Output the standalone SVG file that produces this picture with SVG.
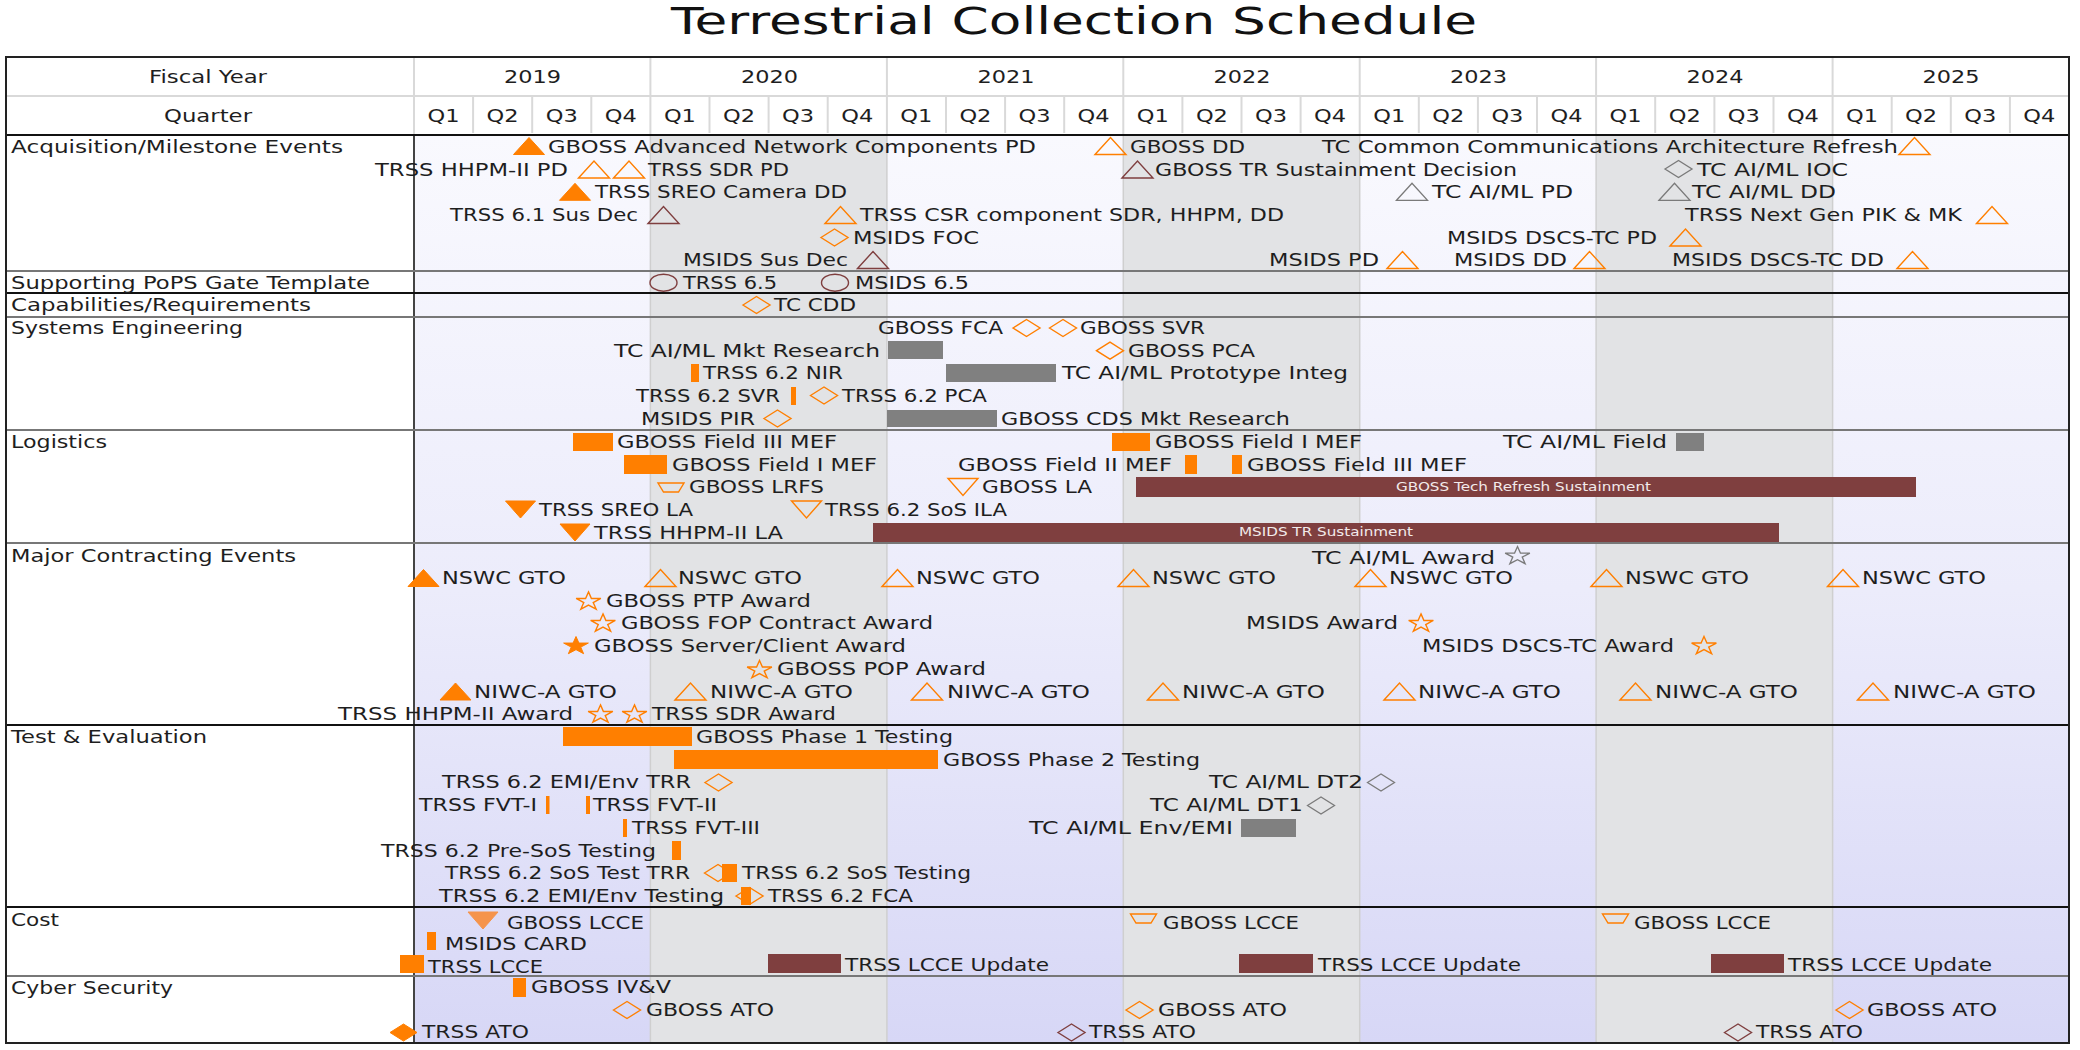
<svg xmlns="http://www.w3.org/2000/svg" xmlns:xlink="http://www.w3.org/1999/xlink" width="2080" height="1050" viewBox="0 0 2080 1050">
<style>
text{font-family:"DejaVu Sans","Liberation Sans",sans-serif;font-size:18px;fill:#1e1e1e}
.ttl{font-size:37px;fill:#111}
.sm{font-size:12px;fill:#f2eaea}
.fo{fill:#ff7f00;stroke:#ff7f00;stroke-width:1}
.fl{fill:#f5944c;stroke:#f5944c;stroke-width:1}
.oo{fill:none;stroke:#ff7f00;stroke-width:1.4}
.om{fill:none;stroke:#7f3f3f;stroke-width:1.4}
.og{fill:none;stroke:#7a7a7a;stroke-width:1.3}
.bo{fill:#ff7f00}
.bm{fill:#7f3f3f}
.bg{fill:#808080}
.hl{stroke:#d9d9d9;stroke-width:2}
.yl{stroke:#cfcfcf;stroke-width:1.5}
.rk{stroke:#111;stroke-width:2}
.rg{stroke:#777;stroke-width:2}
</style>
<defs>
<linearGradient id="bgg" x1="0" y1="0" x2="0" y2="1">
<stop offset="0" stop-color="#f9f9fe"/>
<stop offset="0.5" stop-color="#ececfb"/>
<stop offset="1" stop-color="#d7d7f6"/>
</linearGradient>
<path id="tri" d="M-15.5,8.5 L0,-8.5 L15.5,8.5 Z"/>
<path id="itri" d="M-15,-8.5 L15,-8.5 L0,8.5 Z"/>
<path id="dia" d="M-13.5,0 L0,-8.5 L13.5,0 L0,8.5 Z"/>
<path id="star" d="M0,-9.5 L2.92,-2.94 L12.36,-2.94 L4.72,1.12 L7.64,7.69 L0,3.63 L-7.64,7.69 L-4.72,1.12 L-12.36,-2.94 L-2.92,-2.94 Z"/>
<ellipse id="ell" cx="0" cy="0" rx="13.5" ry="8.5"/>
<path id="trap" d="M-13,-4.5 L13,-4.5 L7.5,4.5 L-7.5,4.5 Z"/>
</defs>

<rect x="0" y="0" width="2080" height="1050" fill="#ffffff"/>
<text class="ttl" x="671" y="34" textLength="806" lengthAdjust="spacingAndGlyphs">Terrestrial Collection Schedule</text>

<g id="grid">
<rect x="414" y="135" width="1655" height="908" fill="url(#bgg)"/>
<rect x="650.4" y="135" width="236.5" height="908" fill="#e2e3e5"/>
<rect x="1123.3" y="135" width="236.4" height="908" fill="#e2e3e5"/>
<rect x="1596.1" y="135" width="236.5" height="908" fill="#e2e3e5"/>
<g class="yl">
<line x1="650.4" y1="135" x2="650.4" y2="1043"/><line x1="886.9" y1="135" x2="886.9" y2="1043"/>
<line x1="1123.3" y1="135" x2="1123.3" y2="1043"/><line x1="1359.7" y1="135" x2="1359.7" y2="1043"/>
<line x1="1596.1" y1="135" x2="1596.1" y2="1043"/><line x1="1832.6" y1="135" x2="1832.6" y2="1043"/>
</g>
<g class="hl">
<line x1="6" y1="96" x2="2069" y2="96"/>
<line x1="414" y1="57" x2="414" y2="135"/>
<line x1="650.4" y1="57" x2="650.4" y2="135"/><line x1="886.9" y1="57" x2="886.9" y2="135"/>
<line x1="1123.3" y1="57" x2="1123.3" y2="135"/><line x1="1359.7" y1="57" x2="1359.7" y2="135"/>
<line x1="1596.1" y1="57" x2="1596.1" y2="135"/><line x1="1832.6" y1="57" x2="1832.6" y2="135"/>
<line x1="473.1" y1="97" x2="473.1" y2="133"/><line x1="532.2" y1="97" x2="532.2" y2="133"/><line x1="591.3" y1="97" x2="591.3" y2="133"/>
<line x1="709.5" y1="97" x2="709.5" y2="133"/><line x1="768.6" y1="97" x2="768.6" y2="133"/><line x1="827.7" y1="97" x2="827.7" y2="133"/>
<line x1="946" y1="97" x2="946" y2="133"/><line x1="1005.1" y1="97" x2="1005.1" y2="133"/><line x1="1064.2" y1="97" x2="1064.2" y2="133"/>
<line x1="1182.4" y1="97" x2="1182.4" y2="133"/><line x1="1241.5" y1="97" x2="1241.5" y2="133"/><line x1="1300.6" y1="97" x2="1300.6" y2="133"/>
<line x1="1418.8" y1="97" x2="1418.8" y2="133"/><line x1="1477.9" y1="97" x2="1477.9" y2="133"/><line x1="1537" y1="97" x2="1537" y2="133"/>
<line x1="1655.2" y1="97" x2="1655.2" y2="133"/><line x1="1714.4" y1="97" x2="1714.4" y2="133"/><line x1="1773.5" y1="97" x2="1773.5" y2="133"/>
<line x1="1891.7" y1="97" x2="1891.7" y2="133"/><line x1="1950.8" y1="97" x2="1950.8" y2="133"/><line x1="2009.9" y1="97" x2="2009.9" y2="133"/>
</g>
<line x1="414" y1="135" x2="414" y2="1043" stroke="#444" stroke-width="2"/>
<line class="rk" x1="6" y1="135" x2="2069" y2="135"/>
<line class="rg" x1="6" y1="271" x2="2069" y2="271"/>
<line class="rk" x1="6" y1="293" x2="2069" y2="293"/>
<line class="rg" x1="6" y1="317" x2="2069" y2="317"/>
<line class="rg" x1="6" y1="430" x2="2069" y2="430"/>
<line class="rg" x1="6" y1="543" x2="2069" y2="543"/>
<line class="rk" x1="6" y1="725" x2="2069" y2="725"/>
<line class="rk" x1="6" y1="907" x2="2069" y2="907"/>
<line class="rg" x1="6" y1="976" x2="2069" y2="976"/>
<rect x="6" y="57" width="2063" height="986" fill="none" stroke="#222" stroke-width="2"/>
</g>

<g id="header">
<text x="149" y="83" textLength="118" lengthAdjust="spacingAndGlyphs">Fiscal Year</text>
<text x="164" y="122" textLength="88" lengthAdjust="spacingAndGlyphs">Quarter</text>
<text x="504" y="83" textLength="57" lengthAdjust="spacingAndGlyphs">2019</text>
<text x="741" y="83" textLength="57" lengthAdjust="spacingAndGlyphs">2020</text>
<text x="977.5" y="83" textLength="57" lengthAdjust="spacingAndGlyphs">2021</text>
<text x="1213.5" y="83" textLength="57" lengthAdjust="spacingAndGlyphs">2022</text>
<text x="1450" y="83" textLength="57" lengthAdjust="spacingAndGlyphs">2023</text>
<text x="1686.5" y="83" textLength="57" lengthAdjust="spacingAndGlyphs">2024</text>
<text x="1922.5" y="83" textLength="57" lengthAdjust="spacingAndGlyphs">2025</text>
<text x="427.6" y="122" textLength="32" lengthAdjust="spacingAndGlyphs">Q1</text>
<text x="486.6" y="122" textLength="32" lengthAdjust="spacingAndGlyphs">Q2</text>
<text x="545.7" y="122" textLength="32" lengthAdjust="spacingAndGlyphs">Q3</text>
<text x="604.8" y="122" textLength="32" lengthAdjust="spacingAndGlyphs">Q4</text>
<text x="663.9" y="122" textLength="32" lengthAdjust="spacingAndGlyphs">Q1</text>
<text x="723" y="122" textLength="32" lengthAdjust="spacingAndGlyphs">Q2</text>
<text x="782.1" y="122" textLength="32" lengthAdjust="spacingAndGlyphs">Q3</text>
<text x="841.2" y="122" textLength="32" lengthAdjust="spacingAndGlyphs">Q4</text>
<text x="900.3" y="122" textLength="32" lengthAdjust="spacingAndGlyphs">Q1</text>
<text x="959.4" y="122" textLength="32" lengthAdjust="spacingAndGlyphs">Q2</text>
<text x="1018.5" y="122" textLength="32" lengthAdjust="spacingAndGlyphs">Q3</text>
<text x="1077.6" y="122" textLength="32" lengthAdjust="spacingAndGlyphs">Q4</text>
<text x="1136.8" y="122" textLength="32" lengthAdjust="spacingAndGlyphs">Q1</text>
<text x="1195.9" y="122" textLength="32" lengthAdjust="spacingAndGlyphs">Q2</text>
<text x="1255" y="122" textLength="32" lengthAdjust="spacingAndGlyphs">Q3</text>
<text x="1314.1" y="122" textLength="32" lengthAdjust="spacingAndGlyphs">Q4</text>
<text x="1373.2" y="122" textLength="32" lengthAdjust="spacingAndGlyphs">Q1</text>
<text x="1432.3" y="122" textLength="32" lengthAdjust="spacingAndGlyphs">Q2</text>
<text x="1491.4" y="122" textLength="32" lengthAdjust="spacingAndGlyphs">Q3</text>
<text x="1550.5" y="122" textLength="32" lengthAdjust="spacingAndGlyphs">Q4</text>
<text x="1609.6" y="122" textLength="32" lengthAdjust="spacingAndGlyphs">Q1</text>
<text x="1668.7" y="122" textLength="32" lengthAdjust="spacingAndGlyphs">Q2</text>
<text x="1727.8" y="122" textLength="32" lengthAdjust="spacingAndGlyphs">Q3</text>
<text x="1786.9" y="122" textLength="32" lengthAdjust="spacingAndGlyphs">Q4</text>
<text x="1846" y="122" textLength="32" lengthAdjust="spacingAndGlyphs">Q1</text>
<text x="1905.1" y="122" textLength="32" lengthAdjust="spacingAndGlyphs">Q2</text>
<text x="1964.2" y="122" textLength="32" lengthAdjust="spacingAndGlyphs">Q3</text>
<text x="2023.3" y="122" textLength="32" lengthAdjust="spacingAndGlyphs">Q4</text>
</g>

<g id="row-labels">
<text x="11" y="153" textLength="332" lengthAdjust="spacingAndGlyphs">Acquisition/Milestone Events</text>
<text x="11" y="289" textLength="359" lengthAdjust="spacingAndGlyphs">Supporting PoPS Gate Template</text>
<text x="11" y="311" textLength="300" lengthAdjust="spacingAndGlyphs">Capabilities/Requirements</text>
<text x="11" y="334" textLength="232" lengthAdjust="spacingAndGlyphs">Systems Engineering</text>
<text x="11" y="448" textLength="96" lengthAdjust="spacingAndGlyphs">Logistics</text>
<text x="11" y="562" textLength="285" lengthAdjust="spacingAndGlyphs">Major Contracting Events</text>
<text x="11" y="743" textLength="196" lengthAdjust="spacingAndGlyphs">Test &amp; Evaluation</text>
<text x="11" y="926" textLength="48" lengthAdjust="spacingAndGlyphs">Cost</text>
<text x="11" y="994" textLength="162" lengthAdjust="spacingAndGlyphs">Cyber Security</text>
</g>

<g id="connectors"></g>

<g id="acquisition">
<g id="gboss-anc-pd"><use href="#tri" class="fo" x="529" y="146"/><text x="548" y="153" textLength="488" lengthAdjust="spacingAndGlyphs">GBOSS Advanced Network Components PD</text></g>
<g id="gboss-dd"><use href="#tri" class="oo" x="1110.5" y="146"/><text x="1130" y="153" textLength="115" lengthAdjust="spacingAndGlyphs">GBOSS DD</text></g>
<g id="tc-ccar"><text x="1322" y="153" textLength="576" lengthAdjust="spacingAndGlyphs">TC Common Communications Architecture Refresh</text><use href="#tri" class="oo" x="1914.5" y="146"/></g>
<g id="trss-hhpm-pd"><text x="375" y="175.5" textLength="193" lengthAdjust="spacingAndGlyphs">TRSS HHPM-II PD</text><use href="#tri" class="oo" x="594" y="169.5"/></g>
<g id="trss-sdr-pd"><use href="#tri" class="oo" x="629" y="169.5"/><text x="648" y="175.5" textLength="141" lengthAdjust="spacingAndGlyphs">TRSS SDR PD</text></g>
<g id="gboss-tr-sd"><use href="#tri" class="om" x="1137.5" y="169.5"/><text x="1155" y="175.5" textLength="362" lengthAdjust="spacingAndGlyphs">GBOSS TR Sustainment Decision</text></g>
<g id="tc-aiml-ioc"><use href="#dia" class="og" x="1678.5" y="169"/><text x="1697" y="175.5" textLength="151" lengthAdjust="spacingAndGlyphs">TC AI/ML IOC</text></g>
<g id="trss-sreo-dd"><use href="#tri" class="fo" x="575" y="191.8"/><text x="595" y="198" textLength="252" lengthAdjust="spacingAndGlyphs">TRSS SREO Camera DD</text></g>
<g id="tc-aiml-pd"><use href="#tri" class="og" x="1412" y="191.8"/><text x="1432" y="198" textLength="141" lengthAdjust="spacingAndGlyphs">TC AI/ML PD</text></g>
<g id="tc-aiml-dd"><use href="#tri" class="og" x="1674.5" y="191.8"/><text x="1692" y="198" textLength="144" lengthAdjust="spacingAndGlyphs">TC AI/ML DD</text></g>
<g id="trss-61-sd"><text x="450" y="221" textLength="188" lengthAdjust="spacingAndGlyphs">TRSS 6.1 Sus Dec</text><use href="#tri" class="om" x="663.5" y="215"/></g>
<g id="trss-csr"><use href="#tri" class="oo" x="840.5" y="215"/><text x="860" y="221" textLength="424" lengthAdjust="spacingAndGlyphs">TRSS CSR component SDR, HHPM, DD</text></g>
<g id="trss-nextgen"><text x="1685" y="221" textLength="277" lengthAdjust="spacingAndGlyphs">TRSS Next Gen PIK &amp; MK</text><use href="#tri" class="oo" x="1992" y="215"/></g>
<g id="msids-foc"><use href="#dia" class="oo" x="834.5" y="237.5"/><text x="853" y="243.5" textLength="126" lengthAdjust="spacingAndGlyphs">MSIDS FOC</text></g>
<g id="msids-dscs-pd"><text x="1447" y="243.5" textLength="210" lengthAdjust="spacingAndGlyphs">MSIDS DSCS-TC PD</text><use href="#tri" class="oo" x="1685.5" y="237.5"/></g>
<g id="msids-sd"><text x="683" y="266" textLength="165" lengthAdjust="spacingAndGlyphs">MSIDS Sus Dec</text><use href="#tri" class="om" x="873" y="260"/></g>
<g id="msids-pd"><text x="1269" y="266" textLength="110" lengthAdjust="spacingAndGlyphs">MSIDS PD</text><use href="#tri" class="oo" x="1402.5" y="260"/></g>
<g id="msids-dd"><text x="1454" y="266" textLength="113" lengthAdjust="spacingAndGlyphs">MSIDS DD</text><use href="#tri" class="oo" x="1589.5" y="260"/></g>
<g id="msids-dscs-dd"><text x="1672" y="266" textLength="212" lengthAdjust="spacingAndGlyphs">MSIDS DSCS-TC DD</text><use href="#tri" class="oo" x="1912.5" y="260"/></g>
</g>

<g id="pops">
<g id="trss-65"><use href="#ell" class="om" x="663.5" y="282.7"/><text x="683" y="289" textLength="94" lengthAdjust="spacingAndGlyphs">TRSS 6.5</text></g>
<g id="msids-65"><use href="#ell" class="om" x="835" y="282.7"/><text x="855" y="289" textLength="114" lengthAdjust="spacingAndGlyphs">MSIDS 6.5</text></g>
</g>

<g id="capabilities">
<g id="tc-cdd"><use href="#dia" class="oo" x="756.5" y="305"/><text x="774" y="311" textLength="82" lengthAdjust="spacingAndGlyphs">TC CDD</text></g>
</g>

<g id="systems-engineering">
<g id="gboss-fca"><text x="878" y="334" textLength="125" lengthAdjust="spacingAndGlyphs">GBOSS FCA</text><use href="#dia" class="oo" x="1026.5" y="328"/></g>
<g id="gboss-svr"><use href="#dia" class="oo" x="1063" y="328"/><text x="1080" y="334" textLength="125" lengthAdjust="spacingAndGlyphs">GBOSS SVR</text></g>
<g id="tc-aiml-mkt"><text x="614" y="357" textLength="266" lengthAdjust="spacingAndGlyphs">TC AI/ML Mkt Research</text><rect class="bg" x="888" y="341" width="55" height="18"/></g>
<g id="gboss-pca"><use href="#dia" class="oo" x="1110" y="350.7"/><text x="1128" y="357" textLength="127" lengthAdjust="spacingAndGlyphs">GBOSS PCA</text></g>
<g id="trss-62-nir"><rect class="bo" x="691" y="364" width="8" height="18"/><text x="703" y="379" textLength="140" lengthAdjust="spacingAndGlyphs">TRSS 6.2 NIR</text></g>
<g id="tc-aiml-proto"><rect class="bg" x="946" y="364" width="110" height="18"/><text x="1062" y="379" textLength="286" lengthAdjust="spacingAndGlyphs">TC AI/ML Prototype Integ</text></g>
<g id="trss-62-svr"><text x="636" y="402" textLength="144" lengthAdjust="spacingAndGlyphs">TRSS 6.2 SVR</text><rect class="bo" x="791" y="387" width="5" height="18"/></g>
<g id="trss-62-pca"><use href="#dia" class="oo" x="824" y="395.5"/><text x="842" y="402" textLength="145" lengthAdjust="spacingAndGlyphs">TRSS 6.2 PCA</text></g>
<g id="msids-pir"><text x="641" y="425" textLength="114" lengthAdjust="spacingAndGlyphs">MSIDS PIR</text><use href="#dia" class="oo" x="777.5" y="418.5"/></g>
<g id="gboss-cds-mkt"><rect class="bg" x="887" y="410" width="110" height="17"/><text x="1001" y="425" textLength="289" lengthAdjust="spacingAndGlyphs">GBOSS CDS Mkt Research</text></g>
</g>

<g id="logistics">
<g id="gboss-f3-mef-a"><rect class="bo" x="573" y="433" width="40" height="18"/><text x="617" y="448" textLength="220" lengthAdjust="spacingAndGlyphs">GBOSS Field III MEF</text></g>
<g id="gboss-f1-mef-b"><rect class="bo" x="1112" y="433" width="38" height="18"/><text x="1155" y="448" textLength="207" lengthAdjust="spacingAndGlyphs">GBOSS Field I MEF</text></g>
<g id="tc-aiml-field"><text x="1503" y="448" textLength="164" lengthAdjust="spacingAndGlyphs">TC AI/ML Field</text><rect class="bg" x="1676" y="433" width="28" height="18"/></g>
<g id="gboss-f1-mef-a"><rect class="bo" x="624" y="455" width="43" height="19"/><text x="672" y="470.5" textLength="205" lengthAdjust="spacingAndGlyphs">GBOSS Field I MEF</text></g>
<g id="gboss-f2-mef"><text x="958" y="470.5" textLength="214" lengthAdjust="spacingAndGlyphs">GBOSS Field II MEF</text><rect class="bo" x="1185" y="455" width="12" height="19"/></g>
<g id="gboss-f3-mef-b"><rect class="bo" x="1232" y="455" width="10" height="19"/><text x="1247" y="470.5" textLength="220" lengthAdjust="spacingAndGlyphs">GBOSS Field III MEF</text></g>
<g id="gboss-lrfs"><use href="#trap" class="oo" x="671" y="487.5"/><text x="689" y="493" textLength="135" lengthAdjust="spacingAndGlyphs">GBOSS LRFS</text></g>
<g id="gboss-la"><use href="#itri" class="oo" x="963" y="487"/><text x="982" y="493" textLength="110" lengthAdjust="spacingAndGlyphs">GBOSS LA</text></g>
<g id="gboss-tr-sust"><rect class="bm" x="1136" y="477" width="780" height="20"/><text class="sm" x="1396" y="490.5" textLength="255" lengthAdjust="spacingAndGlyphs">GBOSS Tech Refresh Sustainment</text></g>
<g id="trss-sreo-la"><use href="#itri" class="fo" x="520.5" y="509.5"/><text x="539" y="516" textLength="154" lengthAdjust="spacingAndGlyphs">TRSS SREO LA</text></g>
<g id="trss-62-sos-ila"><use href="#itri" class="oo" x="806.5" y="509.5"/><text x="825" y="516" textLength="182" lengthAdjust="spacingAndGlyphs">TRSS 6.2 SoS ILA</text></g>
<g id="trss-hhpm-la"><use href="#itri" class="fo" x="575" y="532.5"/><text x="594" y="539" textLength="189" lengthAdjust="spacingAndGlyphs">TRSS HHPM-II LA</text></g>
<g id="msids-tr-sust"><rect class="bm" x="873" y="523" width="906" height="19"/><text class="sm" x="1239" y="536" textLength="174" lengthAdjust="spacingAndGlyphs">MSIDS TR Sustainment</text></g>
</g>

<g id="contracting">
<g id="tc-aiml-award"><text x="1312" y="564" textLength="183" lengthAdjust="spacingAndGlyphs">TC AI/ML Award</text><use href="#star" class="og" x="1517.5" y="556"/></g>
<g id="nswc-2019"><use href="#tri" class="fo" x="423.5" y="578"/><text x="442" y="584" textLength="124" lengthAdjust="spacingAndGlyphs">NSWC GTO</text></g>
<g id="nswc-2020"><use href="#tri" class="oo" x="660.5" y="578"/><text x="678" y="584" textLength="124" lengthAdjust="spacingAndGlyphs">NSWC GTO</text></g>
<g id="nswc-2021"><use href="#tri" class="oo" x="897.5" y="578"/><text x="916" y="584" textLength="124" lengthAdjust="spacingAndGlyphs">NSWC GTO</text></g>
<g id="nswc-2022"><use href="#tri" class="oo" x="1133.5" y="578"/><text x="1152" y="584" textLength="124" lengthAdjust="spacingAndGlyphs">NSWC GTO</text></g>
<g id="nswc-2023"><use href="#tri" class="oo" x="1370.5" y="578"/><text x="1389" y="584" textLength="124" lengthAdjust="spacingAndGlyphs">NSWC GTO</text></g>
<g id="nswc-2024"><use href="#tri" class="oo" x="1606.5" y="578"/><text x="1625" y="584" textLength="124" lengthAdjust="spacingAndGlyphs">NSWC GTO</text></g>
<g id="nswc-2025"><use href="#tri" class="oo" x="1843" y="578"/><text x="1862" y="584" textLength="124" lengthAdjust="spacingAndGlyphs">NSWC GTO</text></g>
<g id="gboss-ptp"><use href="#star" class="oo" x="588.5" y="601.4"/><text x="606" y="607" textLength="205" lengthAdjust="spacingAndGlyphs">GBOSS PTP Award</text></g>
<g id="gboss-fop"><use href="#star" class="oo" x="603" y="623.4"/><text x="621" y="629" textLength="312" lengthAdjust="spacingAndGlyphs">GBOSS FOP Contract Award</text></g>
<g id="msids-award"><text x="1246" y="629" textLength="152" lengthAdjust="spacingAndGlyphs">MSIDS Award</text><use href="#star" class="oo" x="1421" y="623.4"/></g>
<g id="gboss-sc"><use href="#star" class="fo" x="576" y="646"/><text x="594" y="652" textLength="312" lengthAdjust="spacingAndGlyphs">GBOSS Server/Client Award</text></g>
<g id="msids-dscs-award"><text x="1422" y="652" textLength="252" lengthAdjust="spacingAndGlyphs">MSIDS DSCS-TC Award</text><use href="#star" class="oo" x="1704" y="646"/></g>
<g id="gboss-pop"><use href="#star" class="oo" x="759.5" y="670"/><text x="777" y="675" textLength="209" lengthAdjust="spacingAndGlyphs">GBOSS POP Award</text></g>
<g id="niwc-2019"><use href="#tri" class="fo" x="455.5" y="691.5"/><text x="474" y="697.5" textLength="143" lengthAdjust="spacingAndGlyphs">NIWC-A GTO</text></g>
<g id="niwc-2020"><use href="#tri" class="oo" x="690.5" y="691.5"/><text x="710" y="697.5" textLength="143" lengthAdjust="spacingAndGlyphs">NIWC-A GTO</text></g>
<g id="niwc-2021"><use href="#tri" class="oo" x="927" y="691.5"/><text x="947" y="697.5" textLength="143" lengthAdjust="spacingAndGlyphs">NIWC-A GTO</text></g>
<g id="niwc-2022"><use href="#tri" class="oo" x="1163" y="691.5"/><text x="1182" y="697.5" textLength="143" lengthAdjust="spacingAndGlyphs">NIWC-A GTO</text></g>
<g id="niwc-2023"><use href="#tri" class="oo" x="1399.5" y="691.5"/><text x="1418" y="697.5" textLength="143" lengthAdjust="spacingAndGlyphs">NIWC-A GTO</text></g>
<g id="niwc-2024"><use href="#tri" class="oo" x="1635.5" y="691.5"/><text x="1655" y="697.5" textLength="143" lengthAdjust="spacingAndGlyphs">NIWC-A GTO</text></g>
<g id="niwc-2025"><use href="#tri" class="oo" x="1873" y="691.5"/><text x="1893" y="697.5" textLength="143" lengthAdjust="spacingAndGlyphs">NIWC-A GTO</text></g>
<g id="trss-hhpm-award"><text x="338" y="720" textLength="235" lengthAdjust="spacingAndGlyphs">TRSS HHPM-II Award</text><use href="#star" class="oo" x="600.5" y="714.4"/></g>
<g id="trss-sdr-award"><use href="#star" class="oo" x="634.5" y="714.4"/><text x="652" y="720" textLength="184" lengthAdjust="spacingAndGlyphs">TRSS SDR Award</text></g>
</g>

<g id="test-evaluation">
<g id="gboss-p1"><rect class="bo" x="563" y="727" width="129" height="19"/><text x="696" y="743" textLength="257" lengthAdjust="spacingAndGlyphs">GBOSS Phase 1 Testing</text></g>
<g id="gboss-p2"><rect class="bo" x="674" y="750" width="264" height="19"/><text x="943" y="765.5" textLength="257" lengthAdjust="spacingAndGlyphs">GBOSS Phase 2 Testing</text></g>
<g id="trss-emi-trr"><text x="442" y="788" textLength="249" lengthAdjust="spacingAndGlyphs">TRSS 6.2 EMI/Env TRR</text><use href="#dia" class="oo" x="718.5" y="782.5"/></g>
<g id="tc-aiml-dt2"><text x="1209" y="788" textLength="154" lengthAdjust="spacingAndGlyphs">TC AI/ML DT2</text><use href="#dia" class="og" x="1381" y="782.5"/></g>
<g id="trss-fvt1"><text x="419" y="811" textLength="118" lengthAdjust="spacingAndGlyphs">TRSS FVT-I</text><rect class="bo" x="546" y="796" width="3.5" height="18"/></g>
<g id="trss-fvt2"><rect class="bo" x="586" y="796" width="4" height="18"/><text x="593" y="811" textLength="124" lengthAdjust="spacingAndGlyphs">TRSS FVT-II</text></g>
<g id="tc-aiml-dt1"><text x="1150" y="811" textLength="153" lengthAdjust="spacingAndGlyphs">TC AI/ML DT1</text><use href="#dia" class="og" x="1321" y="805.5"/></g>
<g id="trss-fvt3"><rect class="bo" x="623" y="819" width="4" height="18"/><text x="632" y="834" textLength="128" lengthAdjust="spacingAndGlyphs">TRSS FVT-III</text></g>
<g id="tc-aiml-env"><text x="1029" y="834" textLength="204" lengthAdjust="spacingAndGlyphs">TC AI/ML Env/EMI</text><rect class="bg" x="1241" y="819" width="55" height="18"/></g>
<g id="trss-presos"><text x="381" y="856.5" textLength="275" lengthAdjust="spacingAndGlyphs">TRSS 6.2 Pre-SoS Testing</text><rect class="bo" x="672" y="841" width="9" height="19"/></g>
<g id="trss-sos-trr"><text x="445" y="879" textLength="245" lengthAdjust="spacingAndGlyphs">TRSS 6.2 SoS Test TRR</text><use href="#dia" class="oo" x="718" y="873"/></g>
<g id="trss-sos-test"><rect class="bo" x="722" y="864" width="15" height="18"/><text x="742" y="879" textLength="229" lengthAdjust="spacingAndGlyphs">TRSS 6.2 SoS Testing</text></g>
<g id="trss-fca"><use href="#dia" class="oo" x="749.5" y="896"/><text x="768" y="902" textLength="145" lengthAdjust="spacingAndGlyphs">TRSS 6.2 FCA</text></g>
<g id="trss-emi-test"><text x="439" y="902" textLength="285" lengthAdjust="spacingAndGlyphs">TRSS 6.2 EMI/Env Testing</text><rect class="bo" x="741" y="887" width="10" height="18"/></g>
</g>

<g id="cost">
<g id="gboss-lcce-2019"><use href="#itri" class="fl" x="483" y="920.5"/><text x="507" y="929" textLength="137" lengthAdjust="spacingAndGlyphs">GBOSS LCCE</text></g>
<g id="gboss-lcce-2022"><use href="#trap" class="oo" x="1143.5" y="918.5"/><text x="1163" y="929" textLength="136" lengthAdjust="spacingAndGlyphs">GBOSS LCCE</text></g>
<g id="gboss-lcce-2024"><use href="#trap" class="oo" x="1615.5" y="918.5"/><text x="1634" y="929" textLength="137" lengthAdjust="spacingAndGlyphs">GBOSS LCCE</text></g>
<g id="msids-card"><rect class="bo" x="427" y="932" width="9" height="18"/><text x="445" y="949.5" textLength="142" lengthAdjust="spacingAndGlyphs">MSIDS CARD</text></g>
<g id="trss-lcce"><rect class="bo" x="400" y="955" width="24" height="18"/><text x="428" y="973" textLength="115" lengthAdjust="spacingAndGlyphs">TRSS LCCE</text></g>
<g id="trss-lcce-upd-1"><rect class="bm" x="768" y="954" width="73" height="19"/><text x="845" y="971" textLength="204" lengthAdjust="spacingAndGlyphs">TRSS LCCE Update</text></g>
<g id="trss-lcce-upd-2"><rect class="bm" x="1239" y="954" width="74" height="19"/><text x="1318" y="971" textLength="203" lengthAdjust="spacingAndGlyphs">TRSS LCCE Update</text></g>
<g id="trss-lcce-upd-3"><rect class="bm" x="1711" y="954" width="73" height="19"/><text x="1788" y="971" textLength="204" lengthAdjust="spacingAndGlyphs">TRSS LCCE Update</text></g>
</g>

<g id="cyber">
<g id="gboss-ivv"><rect class="bo" x="513" y="978" width="13" height="19"/><text x="531" y="993" textLength="140" lengthAdjust="spacingAndGlyphs">GBOSS IV&amp;V</text></g>
<g id="gboss-ato-2020"><use href="#dia" class="oo" x="627" y="1010"/><text x="646" y="1016" textLength="128" lengthAdjust="spacingAndGlyphs">GBOSS ATO</text></g>
<g id="gboss-ato-2022"><use href="#dia" class="oo" x="1139.5" y="1010"/><text x="1158" y="1016" textLength="129" lengthAdjust="spacingAndGlyphs">GBOSS ATO</text></g>
<g id="gboss-ato-2025"><use href="#dia" class="oo" x="1849.5" y="1010"/><text x="1867" y="1016" textLength="130" lengthAdjust="spacingAndGlyphs">GBOSS ATO</text></g>
<g id="trss-ato-2019"><use href="#dia" class="fo" x="403.5" y="1032.5"/><text x="422" y="1038" textLength="107" lengthAdjust="spacingAndGlyphs">TRSS ATO</text></g>
<g id="trss-ato-2021"><use href="#dia" class="om" x="1071.5" y="1032.5"/><text x="1089" y="1038" textLength="107" lengthAdjust="spacingAndGlyphs">TRSS ATO</text></g>
<g id="trss-ato-2024"><use href="#dia" class="om" x="1738" y="1032.5"/><text x="1756" y="1038" textLength="107" lengthAdjust="spacingAndGlyphs">TRSS ATO</text></g>
</g>
</svg>
